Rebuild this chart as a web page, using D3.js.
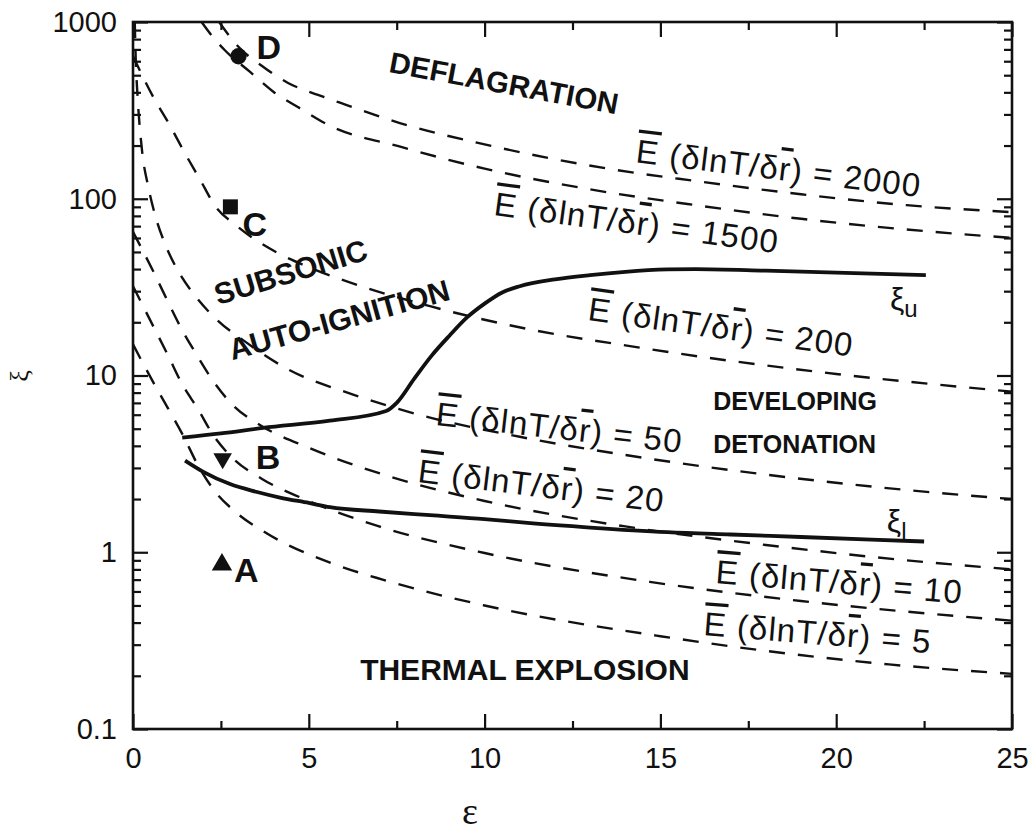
<!DOCTYPE html>
<html>
<head>
<meta charset="utf-8">
<script src="https://cdn.jsdelivr.net/npm/d3@7"></script>
<style>
	body { margin: 0; background: #fff; }
	text { font-family: "Liberation Sans", Arial, sans-serif; fill: #111; }
</style>
</head>
<body>
<div id="chart"></div>
<script>

	// ---- data: [epsilon, xi] ----
	let xiUpper = [[1.4, 4.45], [2.5, 4.7], [3.7, 5.05], [5.6, 5.55], [7.2, 6.3], [7.5, 7.0], [8.0, 9.6],
		[8.5, 13], [9.0, 16.8], [9.5, 21.3], [10, 25.5], [10.5, 29.5], [11, 32], [12, 35], [13, 37],
		[14, 38.6], [15.2, 39.8], [16, 40], [18, 39.2], [20, 38.2], [22.55, 37]];

	let xiLower = [[1.48, 3.3], [2.0, 2.85], [2.76, 2.43], [3.5, 2.2], [4.18, 2.04], [5, 1.9], [5.6, 1.8],
		[7, 1.7], [8.45, 1.62], [10, 1.54], [11.3, 1.46], [13, 1.38], [15.2, 1.3], [17, 1.26],
		[19, 1.22], [21, 1.18], [22.5, 1.15]];

	let level5 = [[0, 15], [0.57, 9.2], [1.0, 6.5], [1.42, 4.6], [1.85, 3.1], [2.3, 2.25], [2.9, 1.7],
		[3.8, 1.28], [5.7, 0.86], [7.1, 0.7], [10, 0.5], [15, 0.335], [21.5, 0.232], [25, 0.205]];

	let level10 = [[0, 32], [0.6, 18.6], [0.98, 13.2], [1.39, 9.0], [1.88, 6.3], [2.25, 4.7], [2.84, 3.4],
		[3.67, 2.6], [5, 1.95], [7, 1.4], [10, 0.99], [14.7, 0.68], [19, 0.53], [25, 0.41]];

	let level20 = [[0, 65], [0.6, 38], [1.0, 26], [1.39, 18.2], [1.82, 13], [2.28, 9.3], [2.84, 6.8],
		[3.61, 5.25], [5, 3.9], [7, 2.8], [10, 1.95], [14, 1.4], [18, 1.1], [22, 0.9], [25, 0.8]];

	let level50 = [[0.05, 1000], [0.08, 600], [0.13, 380], [0.26, 185], [0.43, 118], [0.635, 80],
		[0.92, 55], [1.3, 38.5], [1.77, 28.2], [2.37, 20.8], [3.2, 15.5], [4.35, 11], [6.26, 7.8],
		[8, 6.1], [11, 4.5], [14, 3.55], [18, 2.75], [22, 2.25], [25, 2.0]];

	let level200 = [[0, 640], [0.59, 372], [1.04, 262], [1.47, 182], [1.92, 127], [2.32, 92], [2.96, 70],
		[4.1, 49.5], [5, 41], [6.6, 31.5], [8.5, 24.5], [11.3, 18.2], [14, 14.8], [17, 12.1],
		[20, 10.2], [25, 8.1]];

	let level1500 = [[1.95, 1000], [2.3, 810], [2.62, 690], [3.33, 522], [4.0, 402], [4.78, 322],
		[5.55, 262], [7.6, 197], [10, 148], [13, 113], [16, 92], [19, 77], [22, 67], [25, 60]];

	let level2000 = [[2.45, 1000], [2.97, 734], [3.67, 564], [4.41, 452], [5.26, 387], [6.06, 340],
		[7.59, 268], [10, 203], [13.6, 147], [16, 126], [19, 106], [22, 92], [25, 84]];

	let levelValues = ["5", "10", "20", "50", "200", "1500", "2000"];

	let markerNames = ["A", "B", "C", "D"];
	let markerEps = [2.53, 2.55, 2.77, 3.0];
	let markerXi = [0.85, 3.39, 90, 640];

	let xTicks = [0, 5, 10, 15, 20, 25];
	let xTickLabels = ["0", "5", "10", "15", "20", "25"];
	let yTicks = [0.1, 1, 10, 100, 1000];
	let yTickLabels = ["0.1", "1", "10", "100", "1000"];

	// ---- layout ----
	let width = 1032;
	let height = 832;
	let mLeft = 133, mRight = 1012, mTop = 22, mBottom = 729;

	let svg = d3.select('#chart')
		.append('svg')
		.attr('width', width)
		.attr('height', height);

	let x = d3.scaleLinear().domain([0, 25]).range([mLeft, mRight]);
	let y = d3.scaleLog().domain([0.1, 1000]).range([mBottom, mTop]);

	svg.append('clipPath').attr('id', 'plot')
		.append('rect')
		.attr('x', mLeft).attr('y', mTop)
		.attr('width', mRight - mLeft).attr('height', mBottom - mTop);

	let line = d3.line()
		.x(d => x(d[0]))
		.y(d => y(d[1]))
		.curve(d3.curveMonotoneX);

	// dashed constant-gradient curves
	let levels = [level5, level10, level20, level50, level200, level1500, level2000];
	svg.append('g').attr('clip-path', 'url(#plot)')
		.selectAll('path')
		.data(levels)
		.enter()
		.append('path')
		.attr('d', line)
		.attr('fill', 'none')
		.attr('stroke', '#111')
		.attr('stroke-width', 2.4)
		.attr('stroke-dasharray', '16,13');

	// xi_u and xi_l limits
	svg.append('g')
		.selectAll('path')
		.data([xiUpper, xiLower])
		.enter()
		.append('path')
		.attr('d', line)
		.attr('fill', 'none')
		.attr('stroke', '#111')
		.attr('stroke-width', 3.8);

	// Axes (ticks point inward on all four sides)
	let minorY = [];
	[0.1, 1, 10, 100].forEach(dec => d3.range(2, 10).forEach(m => minorY.push(dec * m)));
	let minorX = [2.5, 7.5, 12.5, 17.5, 22.5];

	function styleAxis(g) {
		g.select('.domain').remove();
		g.selectAll('line').attr('stroke', '#111').attr('stroke-width', 2.2);
		g.selectAll('text').style('font-size', '29px').attr('fill', '#111');
	}

	svg.append('g').attr('transform', `translate(0,${mBottom})`)
		.call(d3.axisBottom(x).tickValues(xTicks).tickSize(-15).tickPadding(18)
			.tickFormat((d, i) => xTickLabels[i]))
		.call(styleAxis);
	svg.append('g').attr('transform', `translate(0,${mBottom})`)
		.call(d3.axisBottom(x).tickValues(minorX).tickSize(-8).tickFormat(''))
		.call(styleAxis);
	svg.append('g').attr('transform', `translate(0,${mTop})`)
		.call(d3.axisTop(x).tickValues(xTicks).tickSize(-15).tickFormat(''))
		.call(styleAxis);
	svg.append('g').attr('transform', `translate(0,${mTop})`)
		.call(d3.axisTop(x).tickValues(minorX).tickSize(-8).tickFormat(''))
		.call(styleAxis);

	svg.append('g').attr('transform', `translate(${mLeft},0)`)
		.call(d3.axisLeft(y).tickValues(yTicks).tickSize(-15).tickPadding(16)
			.tickFormat((d, i) => yTickLabels[i]))
		.call(styleAxis);
	svg.append('g').attr('transform', `translate(${mLeft},0)`)
		.call(d3.axisLeft(y).tickValues(minorY).tickSize(-8).tickFormat(''))
		.call(styleAxis);
	svg.append('g').attr('transform', `translate(${mRight},0)`)
		.call(d3.axisRight(y).tickValues(yTicks).tickSize(-15).tickFormat(''))
		.call(styleAxis);
	svg.append('g').attr('transform', `translate(${mRight},0)`)
		.call(d3.axisRight(y).tickValues(minorY).tickSize(-8).tickFormat(''))
		.call(styleAxis);

	// frame
	svg.append('rect')
		.attr('x', mLeft).attr('y', mTop)
		.attr('width', mRight - mLeft).attr('height', mBottom - mTop)
		.attr('fill', 'none')
		.attr('stroke', '#111')
		.attr('stroke-width', 2.6);

	// axis titles
	svg.append('text')
		.attr('x', 470).attr('y', 824)
		.attr('text-anchor', 'middle')
		.style('font-family', '"Liberation Serif", "DejaVu Serif", serif')
		.style('font-size', '38px')
		.text('ε');
	svg.append('text')
		.attr('transform', 'translate(28,376) rotate(-90)')
		.attr('text-anchor', 'middle')
		.style('font-family', '"Liberation Serif", "DejaVu Serif", serif')
		.style('font-size', '26px')
		.text('ξ');

	// markers A-D
	let symbols = [d3.symbolTriangle, d3.symbolTriangle, d3.symbolSquare, d3.symbolCircle];
	let symSize = [180, 150, 225, 210];
	let symRot = [0, 180, 0, 0];
	let labelDx = [12, 33, 12, 18];
	let labelDy = [17, 10, 29, 3];

	let markers = svg.append('g')
		.selectAll('g')
		.data(markerNames)
		.enter()
		.append('g')
		.attr('transform', (d, i) => `translate(${x(markerEps[i])},${y(markerXi[i])})`);

	markers.append('path')
		.attr('d', (d, i) => d3.symbol().type(symbols[i]).size(symSize[i])())
		.attr('transform', (d, i) => `rotate(${symRot[i]})`)
		.attr('fill', '#111');

	markers.append('text')
		.attr('x', (d, i) => labelDx[i])
		.attr('y', (d, i) => labelDy[i])
		.style('font-size', '34px')
		.style('font-weight', 'bold')
		.text(d => d);

	// region names
	let regions = [
		{ text: 'DEFLAGRATION', eps: 7.25, xi: 521, rot: 10.5, size: 29.5 },
		{ text: 'SUBSONIC', eps: 2.42, xi: 25, rot: -17, size: 30 },
		{ text: 'AUTO-IGNITION', eps: 2.82, xi: 12.2, rot: -15.5, size: 30 },
		{ text: 'DEVELOPING', eps: 16.5, xi: 6.38, rot: 0, size: 25 },
		{ text: 'DETONATION', eps: 16.5, xi: 3.64, rot: 0, size: 25 },
		{ text: 'THERMAL EXPLOSION', eps: 6.46, xi: 0.189, rot: 0, size: 30 }
	];
	svg.append('g')
		.selectAll('text')
		.data(regions)
		.enter()
		.append('text')
		.attr('transform', d => `translate(${x(d.eps)},${y(d.xi)}) rotate(${d.rot})`)
		.style('font-size', d => d.size + 'px')
		.style('font-weight', 'bold')
		.text(d => d.text);

	// curve labels
	let labelPos = [
		{ eps: 16.21, xi: 0.34, rot: 4.6 },
		{ eps: 16.55, xi: 0.67, rot: 4.8 },
		{ eps: 8.08, xi: 2.5, rot: 7 },
		{ eps: 8.59, xi: 5.25, rot: 6.5 },
		{ eps: 12.91, xi: 20.6, rot: 7.9 },
		{ eps: 10.24, xi: 81, rot: 7.7 },
		{ eps: 14.28, xi: 161, rot: 7 }
	];
	let curveLabels = svg.append('g')
		.selectAll('text')
		.data(levelValues)
		.enter()
		.append('text')
		.attr('transform', (d, i) => `translate(${x(labelPos[i].eps)},${y(labelPos[i].xi)}) rotate(${labelPos[i].rot})`)
		.style('font-size', '33px')
		.style('letter-spacing', '1.1px');
	curveLabels.append('tspan').style('text-decoration', 'overline').text('E');
	curveLabels.append('tspan').text(' (δlnT/δ');
	curveLabels.append('tspan').style('text-decoration', 'overline').text('r');
	curveLabels.append('tspan').text(d => ') = ' + d);

	// xi_u / xi_l tags
	let tags = [
		{ sub: 'u', eps: 21.53, xi: 23.5 },
		{ sub: 'l', eps: 21.44, xi: 1.3 }
	];
	let tag = svg.append('g')
		.selectAll('text')
		.data(tags)
		.enter()
		.append('text')
		.attr('x', d => x(d.eps))
		.attr('y', d => y(d.xi))
		.style('font-size', '32px');
	tag.append('tspan').text('ξ');
	tag.append('tspan').attr('dy', 7).style('font-size', '24px').text(d => d.sub);

</script>
</body>
</html>
